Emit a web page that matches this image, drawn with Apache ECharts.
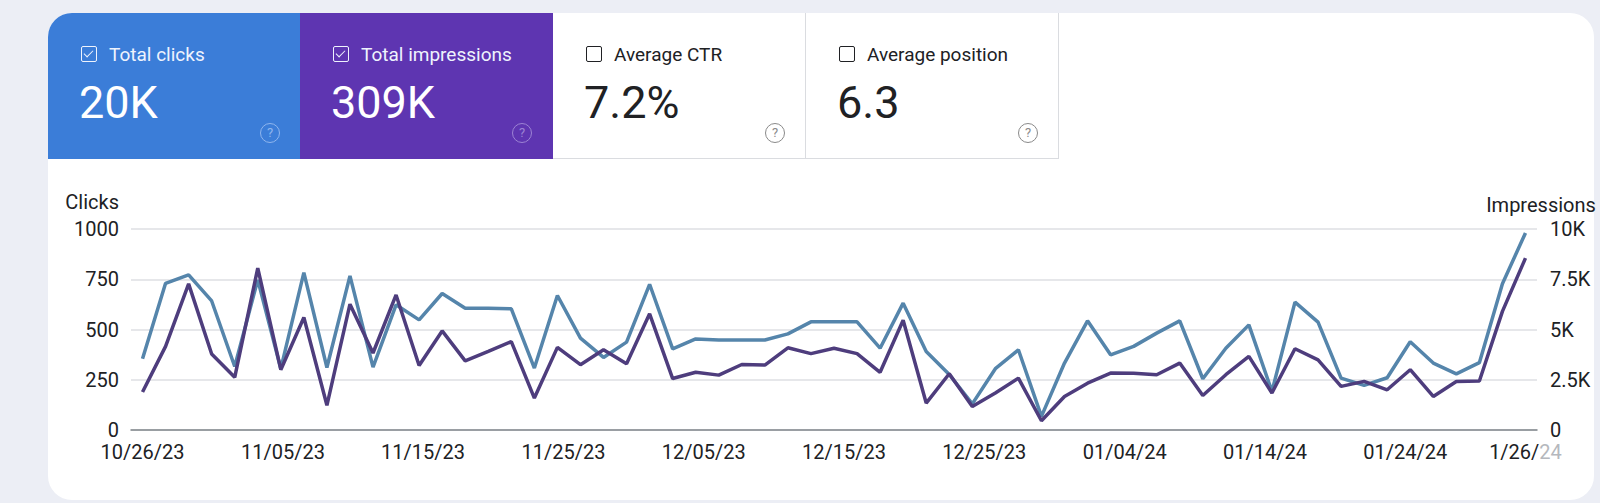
<!DOCTYPE html>
<html>
<head>
<meta charset="utf-8">
<script src="https://cdn.jsdelivr.net/npm/echarts@6/dist/echarts.min.js"></script>
<style>
  html, body { margin: 0; padding: 0; }
  body {
    width: 1600px; height: 503px; overflow: hidden; position: relative;
    background: #eceef5; font-family: Roboto, "Noto Sans", sans-serif;
  }
  .panel {
    position: absolute; left: 48px; top: 13px; width: 1546px; height: 487px;
    background: #fff; border-radius: 24px; overflow: hidden;
  }
  .card { position: absolute; top: 0; width: 253px; height: 146px; box-sizing: border-box; }
  .card.clicks { left: 0; background: #3b7dd8; color: #fff; }
  .card.impr { left: 252px; background: #5e35b1; color: #fff; }
  .card.ctr { left: 505px; border-right: 1px solid #dadce0; border-bottom: 1px solid #dadce0; color: #202124; }
  .card.pos { left: 758px; border-right: 1px solid #dadce0; border-bottom: 1px solid #dadce0; color: #202124; }
  .box {
    position: absolute; left: 33px; top: 33px; width: 14px; height: 14px;
    border: 1.6px solid #202124; border-radius: 2px;
  }
  .clicks .box, .impr .box { border-color: #eef3fd; }
  .box.on::after {
    content: ""; position: absolute; left: 4px; top: 1px; width: 4px; height: 8px;
    border: solid #eef3fd; border-width: 0 1.6px 1.6px 0; transform: rotate(45deg);
  }
  .label { position: absolute; left: 61px; top: 29px; font-size: 19px; line-height: 26px; }
  .clicks .label, .impr .label { color: #eef3fd; }
  .value { position: absolute; left: 31px; top: 62px; font-size: 45px; line-height: 56px; }
  .help {
    position: absolute; left: 212px; top: 110px; width: 18px; height: 18px;
    border: 1.5px solid #8a8a8a; border-radius: 50%; color: #8a8a8a;
    font-size: 13px; line-height: 18px; text-align: center;
  }
  .clicks .help { border-color: #8fb6ee; color: #8fb6ee; }
  .impr .help { border-color: #9c83d4; color: #9c83d4; }
  #chart { position: absolute; left: 0; top: 0; width: 1600px; height: 503px; }
</style>
</head>
<body>
<div class="panel">
  <div class="card clicks"><span class="box on"></span><span class="label">Total clicks</span><span class="value">20K</span><span class="help">?</span></div>
  <div class="card impr"><span class="box on"></span><span class="label">Total impressions</span><span class="value">309K</span><span class="help">?</span></div>
  <div class="card ctr"><span class="box"></span><span class="label">Average CTR</span><span class="value">7.2%</span><span class="help">?</span></div>
  <div class="card pos"><span class="box"></span><span class="label">Average position</span><span class="value">6.3</span><span class="help">?</span></div>
</div>
<div id="chart"></div>
<script>
// one value per point (61 points)
const clicks = [
  189, 416, 727, 378, 262, 805, 300, 560, 123, 626, 383, 672, 321, 493,
  344, 391, 440, 159, 411, 325, 399, 330, 578, 256, 287, 273, 326, 323, 409,
  380, 407, 380, 287, 546, 134, 280, 117, 184, 258, 46, 167, 233, 283,
  282, 275, 333, 172, 275, 366, 184, 404, 349, 217, 242, 200, 300, 167,
  241, 244, 590, 855
];
const impressions = [
  3540, 7300, 7720, 6420, 3160, 7470, 3050, 7830, 3110, 7670, 3130, 6230, 5480, 6790,
  6060, 6060, 6030, 3080, 6690, 4570, 3610, 4370, 7250, 4040, 4530, 4480, 4480, 4480, 4780,
  5380, 5380, 5380, 4070, 6310, 3910, 2760, 1300, 3050, 3990, 680, 3330, 5430, 3740,
  4160, 4820, 5430, 2550, 4070, 5230, 1920, 6360, 5370, 2580, 2220, 2600, 4390, 3330,
  2790, 3350, 7280, 9800
];
// date labels and the point index they sit at
const tickLabels = ['10/26/23', '11/05/23', '11/15/23', '11/25/23', '12/05/23', '12/15/23',
  '12/25/23', '01/04/24', '01/14/24', '01/24/24', '1/26/24'];
const tickAt = [0, 6.09, 12.17, 18.26, 24.35, 30.43, 36.52, 42.61, 48.7, 54.78, 60];

const textColor = '#202124';
const chart = echarts.init(document.getElementById('chart'), null, { renderer: 'svg' });

chart.setOption({
  animation: false,
  textStyle: { fontFamily: 'Roboto' },
  grid: { left: 131, right: 63, top: 229, height: 201 },
  // left axis title, right-aligned over the tick labels
  graphic: [{
    type: 'text',
    x: 119,
    y: 202,
    style: {
      text: 'Clicks',
      fontSize: 20,
      fontFamily: 'Roboto',
      fill: textColor,
      align: 'right',
      verticalAlign: 'middle'
    }
  }],
  xAxis: {
    type: 'value',
    min: -0.5,
    max: 60.5,
    splitLine: { show: false },
    axisTick: { show: false },
    axisLine: { show: true, onZero: false, lineStyle: { color: '#80868b', width: 1.5 } },
    axisLabel: {
      customValues: tickAt,
      margin: 12,
      fontSize: 20,
      color: textColor,
      formatter(val) {
        let i = 0;
        tickAt.forEach((t, k) => { if (Math.abs(t - val) < Math.abs(tickAt[i] - val)) i = k; });
        const s = tickLabels[i];
        if (i === tickLabels.length - 1) return '{a|' + s.slice(0, -2) + '}{b|' + s.slice(-2) + '}';
        return s;
      },
      rich: {
        a: { fontSize: 20, color: textColor },
        b: { fontSize: 20, color: '#b5b8bd' }
      }
    }
  },
  yAxis: [
    {
      type: 'value',
      min: 0,
      max: 1000,
      interval: 250,
      axisLine: { show: false },
      axisTick: { show: false },
      splitLine: { lineStyle: { color: '#dedfe3', width: 1.5 } },
      axisLabel: {
        fontSize: 20,
        color: textColor,
        margin: 12,
        formatter(val) {
          return String(val);
        }
      }
    },
    {
      type: 'value',
      min: 0,
      max: 10000,
      interval: 2500,
      name: 'Impressions',
      nameGap: 14,
      nameTextStyle: { fontSize: 20, color: textColor, align: 'center', padding: [0, 0, 0, 8] },
      axisLine: { show: false },
      axisTick: { show: false },
      splitLine: { show: false },
      axisLabel: {
        fontSize: 20,
        color: textColor,
        margin: 13,
        formatter(val) {
          return val === 0 ? '0' : val / 1000 + 'K';
        }
      }
    }
  ],
  series: [
    {
      name: 'Impressions',
      type: 'line',
      yAxisIndex: 1,
      data: impressions.map((v, i) => [i, v]),
      color: '#5585ab'
    },
    {
      name: 'Clicks',
      type: 'line',
      yAxisIndex: 0,
      data: clicks.map((v, i) => [i, v]),
      color: '#4e3d7d'
    }
  ].map(s => ({
    ...s,
    symbol: 'none',
    lineStyle: { width: 3.5 }
  }))
});
</script>
</body>
</html>
